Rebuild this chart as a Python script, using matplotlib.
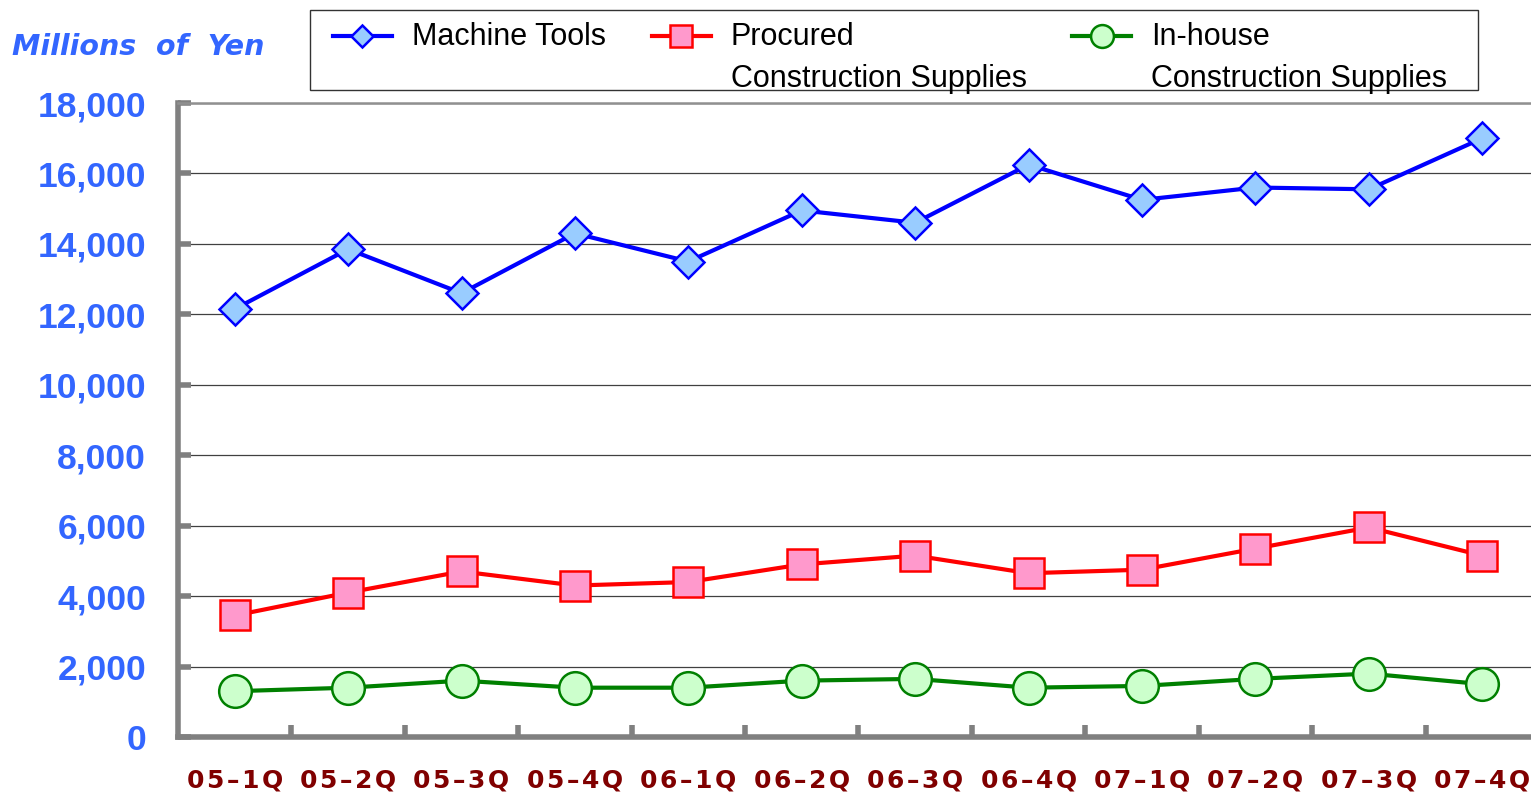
import numpy as np
import matplotlib
matplotlib.use("Agg")
import matplotlib.pyplot as plt
from matplotlib.patches import Rectangle

# ----------------------------
# Data (millions of yen)
# ----------------------------

quarters = ["05-1Q", "05-2Q", "05-3Q", "05-4Q", "06-1Q", "06-2Q",
            "06-3Q", "06-4Q", "07-1Q", "07-2Q", "07-3Q", "07-4Q"]

machine_tools = [12150, 13850, 12600, 14300, 13500, 14950,
                 14600, 16250, 15250, 15600, 15550, 17000]
procured = [3450, 4100, 4700, 4300, 4400, 4900,
            5150, 4650, 4750, 5350, 5950, 5150]
inhouse = [1300, 1400, 1600, 1400, 1400, 1600,
           1650, 1400, 1450, 1650, 1800, 1500]

series_labels = ["Machine Tools\n ", "Procured\nConstruction Supplies",
                 "In-house\nConstruction Supplies"]

y_ticks = list(range(0, 18001, 2000))

# ----------------------------
# Figure
# ----------------------------

W, H = 1531, 792
fig = plt.figure(figsize=(W / 100, H / 100), dpi=100)
ax = fig.add_axes([178 / W, 1 - 737 / H, 1361 / W, (737 - 103) / H])

x = np.arange(len(quarters))

ax.plot(x, machine_tools, color="#0000FF", lw=3, marker="D", ms=16,
        mfc="#99CCFF", mec="#0000FF", mew=1.8, label=series_labels[0], zorder=3)
ax.plot(x, procured, color="#FF0000", lw=3, marker="s", ms=22,
        mfc="#FF99CC", mec="#FF0000", mew=1.8, label=series_labels[1], zorder=3)
ax.plot(x, inhouse, color="#008000", lw=3, marker="o", ms=23.5,
        mfc="#CCFFCC", mec="#008000", mew=1.8, label=series_labels[2], zorder=3)

ax.set_xlim(-0.5, len(quarters) - 0.5)
ax.set_ylim(0, 18000)

# y axis
ax.set_yticks(y_ticks)
ax.set_yticklabels([f"{v:,}" for v in y_ticks], fontsize=25.5, fontweight="bold",
                   color="#3366FF", family="Liberation Sans")
ax.tick_params(axis="y", direction="in", length=9, width=4, color="#808080", pad=23)
ax.grid(axis="y", color="#404040", lw=0.9, zorder=0)

# x axis: labels at the points, ticks between them
hs = "\u200a"
ax.set_xticks(x)
ax.set_xticklabels([hs.join(q.replace("-", "\u2013")) for q in quarters],
                   fontsize=18, fontweight="bold", color="#800000")
ax.set_xticks(np.arange(0.5, len(quarters) - 0.5, 1), minor=True)
ax.tick_params(axis="x", which="major", length=0, pad=23)
ax.tick_params(axis="x", which="minor", direction="in", length=9, width=4,
               color="#808080")

for side in ["left", "bottom"]:
    ax.spines[side].set_color("#808080")
    ax.spines[side].set_linewidth(4)
ax.spines["top"].set_color("#909090")
ax.spines["top"].set_linewidth(1.8)
ax.spines["right"].set_visible(False)

fig.text(12 / W, 1 - 47 / H, "Millions  of  Yen", fontsize=20.5,
         fontweight="bold", style="italic", color="#3366FF",
         family="DejaVu Sans", va="center", ha="left")

# ----------------------------
# Legend
# ----------------------------

fig.patches.append(Rectangle((310 / W, 1 - 90 / H), 1168 / W, 80 / H,
                             transform=fig.transFigure, fill=False,
                             edgecolor="#333333", lw=1))

leg = fig.legend(loc="upper left", bbox_to_anchor=(333 / W, 1 - 22 / H),
                 ncol=3, numpoints=1, frameon=False, borderpad=0,
                 handlelength=1.93, handletextpad=0.65, columnspacing=1.5,
                 prop={"family": "Liberation Sans", "size": 22},
                 borderaxespad=0)
for t in leg.get_texts():
    t.set_linespacing(1.5)
for h in leg.legend_handles:
    h.set_markersize(h.get_markersize() * 0.7)
    h.set_ydata(np.asarray(h.get_ydata()) + 16.5)

fig.savefig("out.png", dpi=100)
plt.close(fig)
